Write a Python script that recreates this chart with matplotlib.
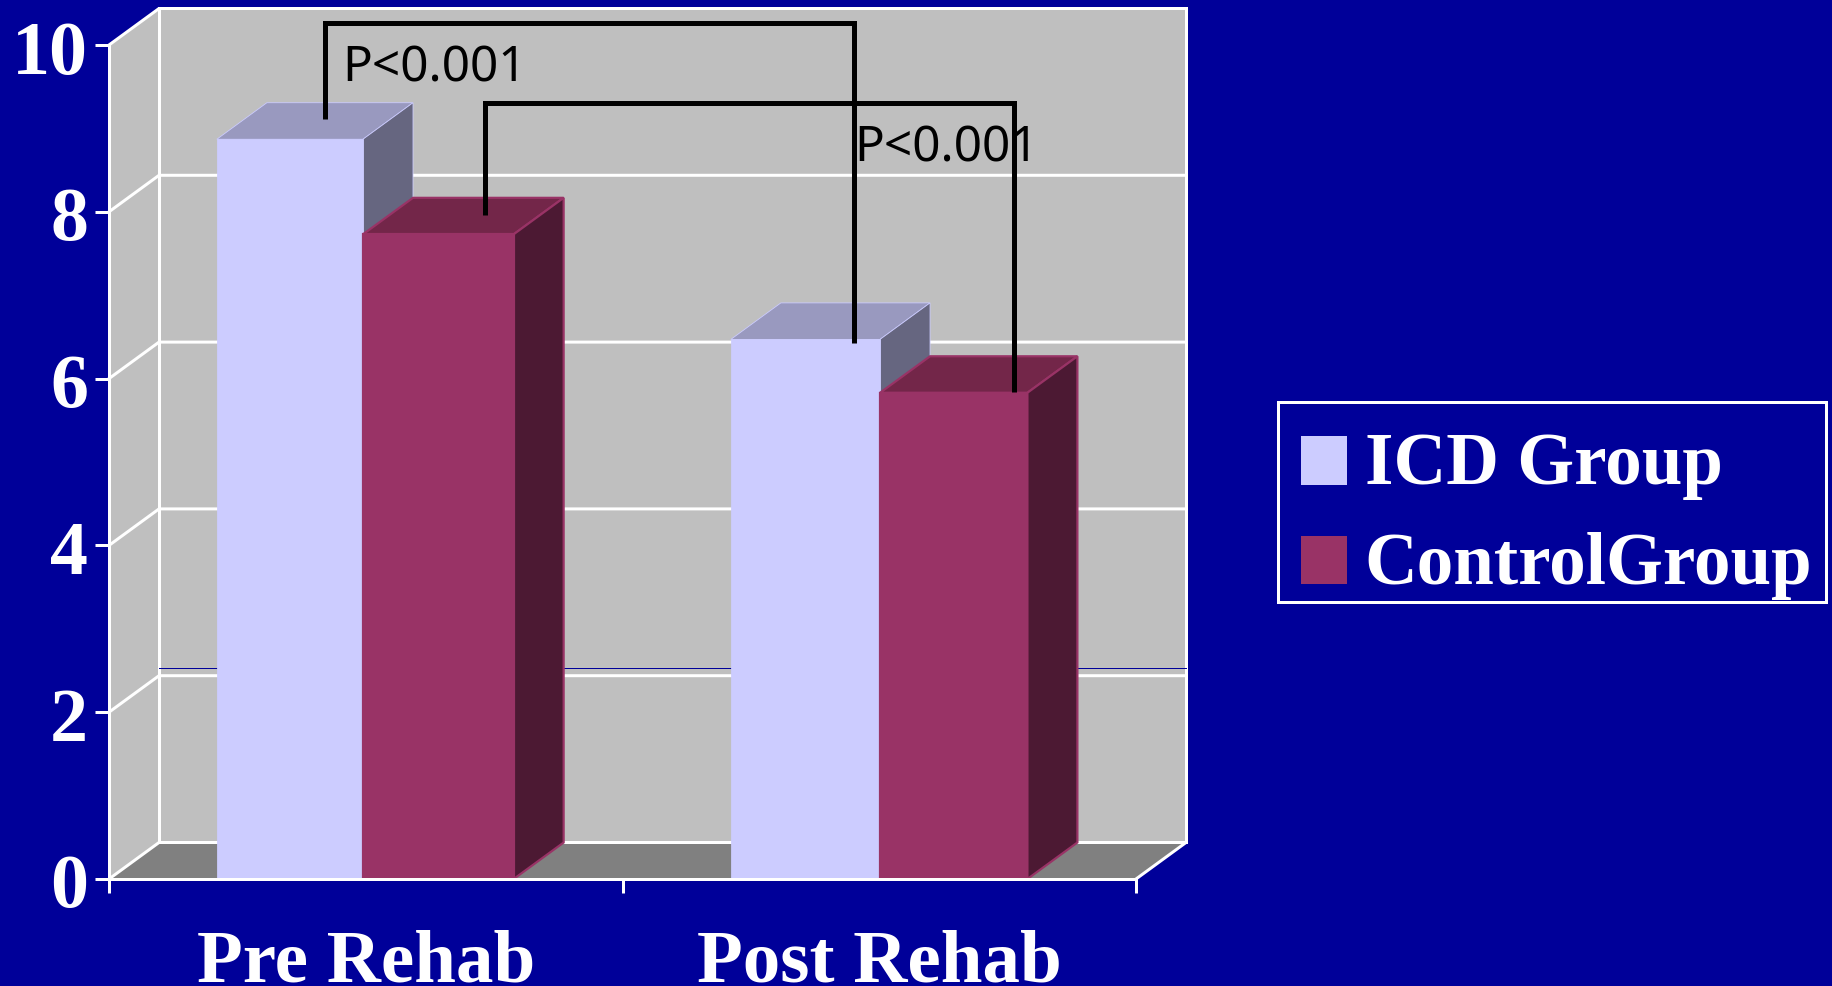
import matplotlib
matplotlib.use("Agg")
import matplotlib.pyplot as plt
from matplotlib.patches import Patch, Rectangle
from matplotlib.legend_handler import HandlerPatch
from matplotlib.transforms import ScaledTranslation

categories = ["Pre Rehab", "Post Rehab"]
series_names = ["ICD Group", "ControlGroup"]
icd_values = [8.87, 6.47]
control_values = [7.73, 5.83]
y_ticks = [0, 2, 4, 6, 8, 10]
p_label = "P<0.001"

BG = "#000099"
WALL = "#BFBFBF"
FLOOR = "#808080"
ICD = ("#CCCCFF", "#9999BF", "#666680")
CTRL = ("#993366", "#732649", "#4C1933")
W, H = 1833, 987
px = 1 / 100 * 72  # points per pixel

fig = plt.figure(figsize=(W / 100, H / 100), dpi=100, facecolor=BG)
ax = fig.add_axes([109 / W, 1 - 880 / H, (1136 - 109) / W, (880 - 46) / H])
ax.set_xlim(0, 2)
ax.set_ylim(0, 10)
ax.patch.set_visible(False)

dx, dy = 0.0974, 0.4377   # depth of the 3-D box in data units
wl = 3.0 * px


def poly(xs, ys, fc, z, ec="none", lw=0):
    ax.fill(xs, ys, facecolor=fc, edgecolor=ec, linewidth=lw, zorder=z, clip_on=False, joinstyle="miter")


def wline(xs, ys, z=2, c="white", lw=wl):
    ax.plot(xs, ys, color=c, lw=lw, zorder=z, clip_on=False, solid_capstyle="projecting")


# walls and floor
poly([dx, 2 + dx, 2 + dx, dx], [dy, dy, 10 + dy, 10 + dy], WALL, 1)
poly([0, dx, dx, 0], [0, dy, 10 + dy, 10], WALL, 1)
poly([0, 2, 2 + dx, dx], [0, 0, dy, dy], FLOOR, 1)
for v in y_ticks:
    wline([0, dx, 2 + dx], [v, v + dy, v + dy])
wline([dx, dx], [dy, 10 + dy])
wline([2 + dx, 2 + dx], [dy, 10 + dy])
wline([2, 2 + dx], [0, dy])
wline([dx, 2 + dx], [2.53, 2.53], c=BG, lw=1.0 * px)


def bar3d(edges, vals, cols, z):
    for (x, xr), v in zip(edges, vals):
        bw = xr - x
        edge = cols[0]
        ew = 2.2 * px if cols is CTRL else 0.8 * px
        poly([x, x + bw, x + bw + dx, x + dx], [v, v, v + dy, v + dy], cols[1], z, edge, ew)
        poly([x + bw, x + bw + dx, x + bw + dx, x + bw], [0, dy, v + dy, v], cols[2], z, edge, ew)
        ax.bar(x, v, width=bw, align="edge", color=cols[0], edgecolor=edge,
               linewidth=ew, zorder=z + 0.5, clip_on=False)


bar3d([(0.21, 0.4946), (1.211, 1.5015)], icd_values, ICD, 3)
bar3d([(0.4946, 0.7880), (1.5015, 1.7885)], control_values, CTRL, 4)

# significance brackets
blw = 5.0 * px
ax.plot([0.4216, 0.4216, 1.451, 1.451], [9.11, 10.26, 10.26, 6.43], color="black", lw=blw,
        zorder=6, clip_on=False, solid_joinstyle="miter", solid_capstyle="butt")
ax.plot([0.732, 0.732, 1.762, 1.762], [7.96, 9.30, 9.30, 5.84], color="black", lw=blw,
        zorder=6, clip_on=False, solid_joinstyle="miter", solid_capstyle="butt")
for x, y in [(0.4538, 9.57), (1.4520, 8.62)]:
    ax.text(x, y, p_label, family="Noto Sans", fontsize=49.5 * px, color="black",
            ha="left", va="baseline", zorder=7, clip_on=False)

# axes
for s in ("top", "right"):
    ax.spines[s].set_visible(False)
for s in ("left", "bottom"):
    ax.spines[s].set_color("white")
    ax.spines[s].set_linewidth(wl)
    ax.spines[s].set_zorder(10)
serif = dict(family="Liberation Serif", fontweight="bold", color="white")
ax.set_yticks(y_ticks)
ax.set_yticklabels([str(v) for v in y_ticks], fontsize=76 * px, **serif)
ax.set_xticks([0, 1, 2])
ax.set_xticklabels([])
ax.tick_params(axis="both", which="major", colors="white", width=wl, length=14 * px)
ax.tick_params(axis="y", pad=7 * px)
shift = ScaledTranslation(0, -9 / 100, fig.dpi_scale_trans)
for lab in ax.get_yticklabels():
    lab.set_va("center")
    lab.set_transform(lab.get_transform() + shift)
for i, c in enumerate(categories):
    ax.text(i + 0.5, -1.215, c, fontsize=75 * px, ha="center", va="baseline", clip_on=False, **serif)


# legend: frame drawn separately so that it can be sized independently of the text box
def swatch(legend, orig_handle, xdescent, ydescent, width, height, fontsize):
    return Rectangle((-xdescent, -ydescent - 3 * px), width, height)


fig.add_artist(Rectangle((1278 / W, 1 - 603 / H), 548 / W, 200 / H, transform=fig.transFigure,
                         facecolor=BG, edgecolor="white", linewidth=wl))
handles = [Patch(facecolor=ICD[0], edgecolor="none"), Patch(facecolor=CTRL[0], edgecolor="none")]
leg = fig.legend(handles, series_names, loc="center", ncol=1,
                 bbox_to_anchor=(1278 / W, 1 - 603 / H - 13 / H, 551 / W, 200 / H),
                 prop=dict(family="Liberation Serif", weight="bold", size=73 * px),
                 labelcolor="white", frameon=False, mode="expand", borderaxespad=0, borderpad=0.32,
                 handlelength=0.63, handleheight=0.65, handletextpad=0.24, labelspacing=0.43,
                 handler_map={Patch: HandlerPatch(patch_func=swatch)})

fig.savefig("out.png", dpi=100, facecolor=BG)
